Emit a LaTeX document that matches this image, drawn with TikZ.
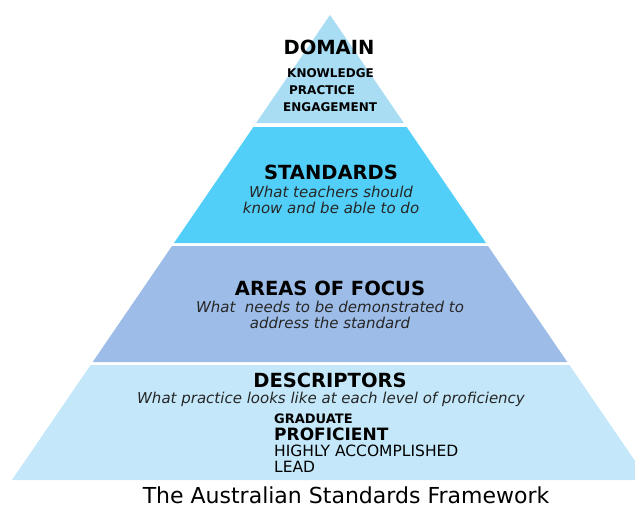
\documentclass[tikz,border=0pt]{standalone}
\usepackage{fontspec}
\setmainfont{DejaVu Sans}
\usetikzlibrary{positioning}

\definecolor{domainblue}{HTML}{A9DDF3}
\definecolor{standardblue}{HTML}{52CFF8}
\definecolor{focusblue}{HTML}{9DBDE8}
\definecolor{descblue}{HTML}{C4E8FA}

\begin{document}
\begin{tikzpicture}[x=1pt,y=-1pt,
    head/.style={font=\fontsize{19.5}{22}\selectfont\bfseries,inner sep=0pt},
    desc/.style={font=\fontsize{15}{16}\selectfont\itshape,align=center,inner sep=0pt,text=black!85},
    item/.style={font=\fontsize{12}{13}\selectfont\bfseries,anchor=west,inner sep=0pt},
    level/.style={font=\fontsize{15.5}{16}\selectfont,anchor=west,inner sep=0pt}
  ]
    \useasboundingbox (0,0) rectangle (635,509);
    \clip (0,0) rectangle (635,509);

    % Pyramid tiers, white gaps between them
    \fill[domainblue]   (330,15) -- (403.9,123) -- (256.1,123) -- cycle;
    \fill[standardblue] (253.4,127) -- (406.6,127) -- (486.0,243) -- (174.0,243) -- cycle;
    \fill[focusblue]    (172.0,246) -- (488.0,246) -- (567.3,362) -- (92.7,362) -- cycle;
    \fill[descblue]     (90.6,365) -- (569.4,365) -- (648.1,480) -- (11.9,480) -- cycle;

    % Tier: domain
    \node[head] (domain) at (329,47) {DOMAIN};
    \node[item] (knowledge) at (287,73) {KNOWLEDGE};
    \node[item] (practice) at (289,90) {PRACTICE};
    \node[item] (engagement) at (283,107) {ENGAGEMENT};

    % Tier: standards
    \node[head] (standards) at (331,172) {STANDARDS};
    \node[desc] (stdtext) at (331,200) {What teachers should\\know and be able to do};

    % Tier: areas of focus
    \node[head] (focus) at (330,288) {AREAS OF FOCUS};
    \node[desc] (focustext) at (330,314.5) {What\ \ needs to be demonstrated to\\address the standard};

    % Tier: descriptors and the career stages
    \node[head] (descriptors) at (330,380) {DESCRIPTORS};
    \node[desc] (desctext) at (331,399) {What practice looks like at each level of proficiency};
    \node[level,font=\fontsize{13}{14}\selectfont\bfseries] (graduate) at (274,419) {GRADUATE};
    \node[level,font=\fontsize{17}{18}\selectfont\bfseries] (proficient) at (274,434) {PROFICIENT};
    \node[level] (accomplished) at (274,451) {HIGHLY ACCOMPLISHED};
    \node[level] (lead) at (274,467) {LEAD};

    % Caption under the pyramid
    \node[font=\fontsize{22}{24}\selectfont,inner sep=0pt] (caption) at (346,495) {The Australian Standards Framework};
\end{tikzpicture}
\end{document}
